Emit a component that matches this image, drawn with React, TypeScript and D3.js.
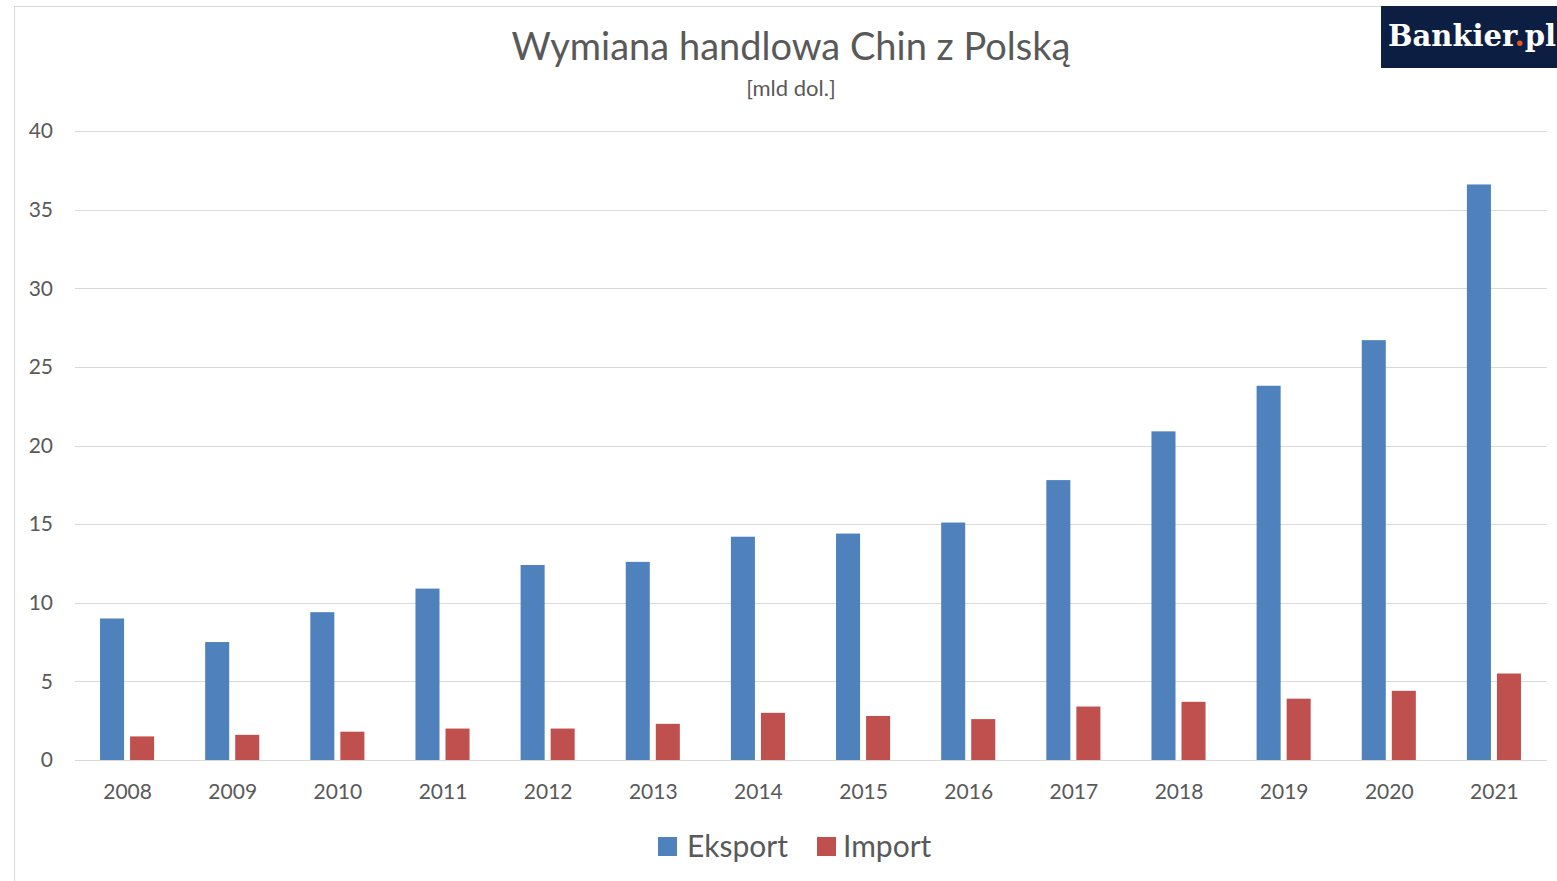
import * as d3 from 'd3';

const years = ['2008', '2009', '2010', '2011', '2012', '2013', '2014', '2015', '2016', '2017', '2018', '2019', '2020', '2021'];
const eksport = [9.0, 7.5, 9.4, 10.9, 12.4, 12.6, 14.2, 14.4, 15.1, 17.8, 20.9, 23.8, 26.7, 36.6];
const importVals = [1.5, 1.6, 1.8, 2.0, 2.0, 2.3, 3.0, 2.8, 2.6, 3.4, 3.7, 3.9, 4.4, 5.5];
const seriesNames = ['Eksport', 'Import'];
const yTicks = [0, 5, 10, 15, 20, 25, 30, 35, 40];

const WIDTH = 1557;
const HEIGHT = 881;
const COLORS: Record<string, string> = { Eksport: '#4f81bd', Import: '#c0504d' };
const FONT = 'Lato, "Open Sans", sans-serif';
const TEXT = '#595959';

const App = () => {
  // plot area, taken from the gridlines
  const left = 75;
  const right = 1547;
  const top = 131;
  const bottom = 760;

  const x0 = d3.scaleBand<string>().domain(years).range([left, right]).padding(0);
  const x1 = d3
    .scaleBand<string>()
    .domain(seriesNames)
    .range([0, x0.bandwidth()])
    .paddingInner(0.2)
    .paddingOuter(0.85);
  const y = d3.scaleLinear().domain([0, 40]).range([bottom, top]);

  const values: Record<string, number[]> = { Eksport: eksport, Import: importVals };

  const bars = years.flatMap((yr, i) =>
    seriesNames.map(s => {
      const v = values[s][i];
      return (
        <rect
          key={`${s}-${yr}`}
          x={(x0(yr) ?? 0) + (x1(s) ?? 0) - 0.5}
          y={y(v)}
          width={x1.bandwidth()}
          height={bottom - y(v)}
          fill={COLORS[s]}
        />
      );
    })
  );

  return (
    <svg
      width={WIDTH}
      height={HEIGHT}
      style={{ position: 'absolute', left: 0, top: 0, background: '#fff' }}
      fontFamily={FONT}
    >
      <rect x={0} y={0} width={WIDTH} height={HEIGHT} fill="#fff" />
      {/* frame */}
      <line x1={14.5} x2={14.5} y1={6} y2={HEIGHT} stroke="#d9d9d9" />
      <line x1={14} x2={WIDTH} y1={6.5} y2={6.5} stroke="#d9d9d9" />

      <text x={791} y={60} textAnchor="middle" fontSize={38} fill={TEXT}>
        Wymiana handlowa Chin z Polską
      </text>
      <text x={791} y={96} textAnchor="middle" fontSize={22} fill={TEXT}>
        [mld dol.]
      </text>

      {yTicks.map(t => (
        <g key={`g-${t}`}>
          <line x1={left} x2={right} y1={Math.round(y(t)) + 0.5} y2={Math.round(y(t)) + 0.5} stroke="#d9d9d9" />
          <text x={53} y={y(t)} dy="0.35em" textAnchor="end" fontSize={21} fill={TEXT}>
            {t}
          </text>
        </g>
      ))}

      {bars}

      {years.map(yr => (
        <text
          key={`x-${yr}`}
          x={(x0(yr) ?? 0) + x0.bandwidth() / 2}
          y={792}
          dy="0.35em"
          textAnchor="middle"
          fontSize={21}
          fill={TEXT}
        >
          {yr}
        </text>
      ))}

      {/* legend */}
      <g>
        <rect x={658} y={837} width={19} height={19} fill={COLORS.Eksport} />
        <text x={687} y={846} dy="0.35em" fontSize={30} fill={TEXT}>
          Eksport
        </text>
        <rect x={817} y={837} width={19} height={19} fill={COLORS.Import} />
        <text x={843} y={846} dy="0.35em" fontSize={30} fill={TEXT}>
          Import
        </text>
      </g>

      {/* logo */}
      <rect x={1381} y={6} width={WIDTH - 1381} height={62} fill="#0c1f42" />
      <text
        x={1388}
        y={46}
        fontFamily='"DejaVu Serif", "Liberation Serif", serif'
        fontWeight="bold"
        fontSize={29}
        fill="#fff"
      >
        Bankier<tspan fill="#e8581c">.</tspan>pl
      </text>
    </svg>
  );
};

export default App;
